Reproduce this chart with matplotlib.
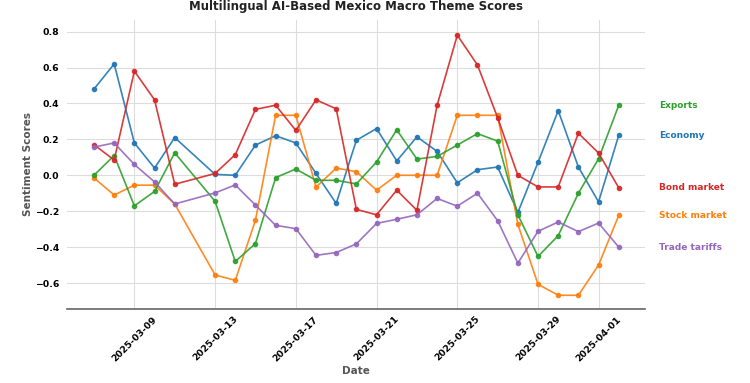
import numpy as np
import pandas as pd
import matplotlib
matplotlib.use("Agg")
import matplotlib.pyplot as plt
import matplotlib.dates as mdates

# dates (2025-03-12 missing in the source data)
dates = pd.to_datetime(
    ["2025-03-07", "2025-03-08", "2025-03-09", "2025-03-10", "2025-03-11"]
    + [f"2025-03-{d:02d}" for d in range(13, 32)]
    + ["2025-04-01", "2025-04-02"]
)

economy = [0.48, 0.62, 0.18, 0.04, 0.21, 0.005, 0.0, 0.168, 0.22, 0.18, 0.01,
           -0.157, 0.195, 0.26, 0.08, 0.214, 0.133, -0.042, 0.031, 0.046,
           -0.207, 0.072, 0.36, 0.046, -0.148, 0.223]
bond_market = [0.17, 0.085, 0.58, 0.42, -0.05, 0.01, 0.115, 0.367, 0.39, 0.25,
               0.42, 0.37, -0.19, -0.22, -0.083, -0.195, 0.39, 0.78, 0.614,
               0.32, 0.0, -0.065, -0.065, 0.234, 0.124, -0.07]
exports = [0.0, 0.11, -0.17, -0.09, 0.125, -0.145, -0.48, -0.38, -0.013, 0.035,
           -0.028, -0.028, -0.048, 0.074, 0.253, 0.09, 0.105, 0.168, 0.232,
           0.19, -0.22, -0.452, -0.336, -0.10, 0.092, 0.39]
stock_market = [-0.015, -0.11, -0.055, -0.055, -0.16, -0.555, -0.585, -0.25,
                0.334, 0.334, -0.066, 0.04, 0.02, -0.083, 0.0, 0.0, 0.0, 0.334,
                0.334, 0.334, -0.273, -0.607, -0.668, -0.668, -0.50, -0.223]
trade_tariffs = [0.157, 0.18, 0.06, -0.037, -0.16, -0.098, -0.054, -0.166,
                 -0.279, -0.297, -0.446, -0.43, -0.382, -0.268, -0.245, -0.22,
                 -0.129, -0.172, -0.10, -0.253, -0.489, -0.312, -0.26, -0.314,
                 -0.266, -0.40]

series = [
    ("Economy", economy, "#1f77b4"),
    ("Stock market", stock_market, "#ff7f0e"),
    ("Exports", exports, "#2ca02c"),
    ("Bond market", bond_market, "#d62728"),
    ("Trade tariffs", trade_tariffs, "#9467bd"),
]

fig = plt.figure(figsize=(7.5, 3.83), dpi=100)
ax = fig.add_axes([0.089, 0.193, 0.771, 0.755])

for name, vals, col in series:
    ax.plot(dates, vals, color=col, lw=1.2, marker="o", ms=3, alpha=0.9, zorder=3)
    # label at the end of each line, outside the axes
    ax.text(1.025, vals[-1], name, color=col, fontsize=6.5, fontweight="bold",
            va="center", ha="left", transform=ax.get_yaxis_transform())

ax.set_ylim(-0.745, 0.865)
ax.set_yticks(np.arange(-0.6, 0.81, 0.2))
ax.xaxis.set_major_locator(mdates.DayLocator(bymonthday=[1, 5, 9, 13, 17, 21, 25, 29]))
ax.xaxis.set_major_formatter(mdates.DateFormatter("%Y-%m-%d"))
ax.set_xlim(dates[0] - pd.Timedelta(days=1.35), dates[-1] + pd.Timedelta(days=1.3))

ax.grid(True, color="#dddddd", lw=0.8)
ax.set_axisbelow(True)
for s in ["left", "right", "top"]:
    ax.spines[s].set_visible(False)
ax.spines["bottom"].set_color("#666666")
ax.spines["bottom"].set_linewidth(1.2)
ax.tick_params(axis="both", length=0, labelsize=6.7, pad=5.5)
ax.tick_params(axis="x", pad=4)
for lab in ax.get_xticklabels():
    lab.set_rotation(45)
    lab.set_ha("center")
    lab.set_fontweight("bold")
for lab in ax.get_yticklabels():
    lab.set_fontweight("bold")

ax.set_xlabel("Date", fontsize=7.5, fontweight="bold", color="#555555", labelpad=2)
ax.set_ylabel("Sentiment Scores", fontsize=7.5, fontweight="bold", color="#555555",
              labelpad=1.5)
ax.set_title("Multilingual AI-Based Mexico Macro Theme Scores", fontsize=8.5,
             fontweight="bold", color="#222222", pad=7)

fig.savefig("out.png", dpi=100)
